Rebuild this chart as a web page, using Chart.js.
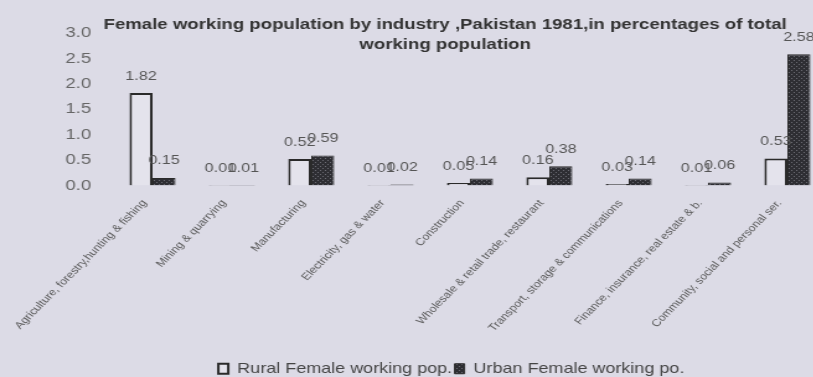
<!DOCTYPE html>
<html>
<head>
<meta charset="utf-8">
<script src="https://cdn.jsdelivr.net/npm/chart.js@4.4.1/dist/chart.umd.min.js"></script>
<style>
  html, body { margin: 0; padding: 0; background: #dcdbe6; overflow: hidden; width: 813px; height: 377px; }
  /* the figure is printed with a wide horizontal aspect */
  #wrap { position: relative; width: 675px; height: 386px; transform: scaleX(1.24); transform-origin: 0 0; }
</style>
</head>
<body>
<div id="wrap"><canvas id="chart" width="675" height="386"></canvas></div>
<script>
// Industry groups on the category axis
const industries = [
  'Agriculture, forestry,hunting & fishing',
  'Mining & quarrying',
  'Manufacturing',
  'Electricity, gas & water',
  'Construction',
  'Wholesale & retail trade, restaurant',
  'Transport, storage & communications',
  'Finance, insurance, real estate & b.',
  'Community, social and personal ser.'
];

// Female share of the total working population (%)
const ruralFemale = [1.82, 0.01, 0.52, 0.01, 0.05, 0.16, 0.03, 0.01, 0.53];
const urbanFemale = [0.15, 0.01, 0.59, 0.02, 0.14, 0.38, 0.14, 0.06, 2.58];

const seriesNames = ['Rural Female working pop.', 'Urban Female working po.'];
const yTickValues = [0, 0.5, 1.0, 1.5, 2.0, 2.5, 3.0];
const titleLines = [
  'Female working population by industry ,Pakistan 1981,in percentages of total',
  'working population'
];

const FONT = '"Liberation Sans", Arial, Helvetica, sans-serif';

// Dark, finely dotted fill for the urban bars
function dottedFill() {
  const p = document.createElement('canvas');
  p.width = 4; p.height = 4;
  const g = p.getContext('2d');
  g.fillStyle = '#2e2e33';
  g.fillRect(0, 0, 4, 4);
  g.fillStyle = '#6c6c74';
  g.fillRect(0, 0, 1, 1);
  g.fillRect(2, 2, 1, 1);
  return g.createPattern(p, 'repeat');
}

// Chart heading, drawn over the top of the plot
const headingPlugin = {
  id: 'heading',
  afterDraw(chart) {
    const ctx = chart.ctx;
    ctx.save();
    ctx.font = 'bold 15px ' + FONT;
    ctx.fillStyle = '#333';
    ctx.textAlign = 'center';
    ctx.textBaseline = 'middle';
    ctx.fillText(titleLines[0], 359, 25);
    ctx.fillText(titleLines[1], 359, 45);
    ctx.restore();
  }
};

// Value written above every bar
const valueLabelPlugin = {
  id: 'valueLabels',
  afterDatasetsDraw(chart) {
    const ctx = chart.ctx;
    ctx.save();
    ctx.font = '13px ' + FONT;
    ctx.fillStyle = '#555';
    ctx.textAlign = 'center';
    ctx.textBaseline = 'middle';
    chart.data.datasets.forEach((ds, di) => {
      chart.getDatasetMeta(di).data.forEach((bar, i) => {
        ctx.fillText(ds.data[i].toFixed(2), bar.x, bar.y - 17);
      });
    });
    ctx.restore();
  }
};

// Centre the legend row under the plot
const legendPlacePlugin = {
  id: 'legendPlace',
  afterLayout(chart) {
    const lg = chart.legend;
    const w = lg.right - lg.left;
    const centre = 364;
    lg.left = centre - w / 2;
    lg.right = centre + w / 2;
  }
};

new Chart(document.getElementById('chart'), {
  type: 'bar',
  data: {
    labels: industries,
    datasets: [
      {
        label: seriesNames[0],
        data: ruralFemale,
        backgroundColor: '#e4e3ec',
        borderColor: '#2a2a2a',
        borderWidth: 2,
        categoryPercentage: 0.58,
        barPercentage: 1.0
      },
      {
        label: seriesNames[1],
        data: urbanFemale,
        backgroundColor: dottedFill(),
        borderColor: '#2a2a2a',
        borderWidth: 1,
        categoryPercentage: 0.58,
        barPercentage: 1.0
      }
    ]
  },
  options: {
    responsive: false,
    animation: false,
    devicePixelRatio: 1,
    layout: { padding: { top: 33, right: 8, bottom: 0, left: 0 } },
    scales: {
      x: {
        grid: { display: false, drawTicks: false },
        border: { display: false },
        ticks: {
          autoSkip: false,
          minRotation: 51,
          maxRotation: 51,
          padding: 12,
          labelOffset: -6.5,
          color: '#5a5a5a',
          font: { family: FONT, size: 10 }
        },
        afterFit(scale) { scale.height = 174; }
      },
      y: {
        min: 0,
        max: 3,
        grid: { display: false, drawTicks: false },
        border: { display: false },
        afterBuildTicks(scale) { scale.ticks = yTickValues.map(v => ({ value: v })); },
        ticks: {
          padding: 17.5,
          color: '#666',
          font: { family: FONT, size: 15 },
          callback: v => Number(v).toFixed(1)
        },
        afterFit(scale) { scale.width = 91; }
      }
    },
    plugins: {
      title: { display: false },
      tooltip: { enabled: false },
      legend: {
        position: 'bottom',
        labels: {
          boxWidth: 8,
          boxHeight: 10,
          padding: 2,
          color: '#444',
          font: { family: FONT, size: 14.5 }
        }
      }
    }
  },
  plugins: [headingPlugin, valueLabelPlugin, legendPlacePlugin]
});
</script>
</body>
</html>
